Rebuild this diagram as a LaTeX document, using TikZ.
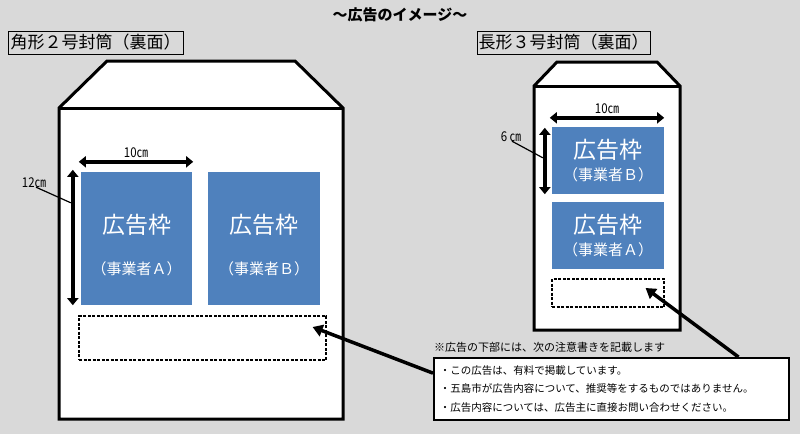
\documentclass[tikz,border=0pt]{standalone}
\usepackage{fontspec}
\setmainfont{Noto Sans CJK JP}
\usetikzlibrary{calc,arrows.meta,positioning}
\definecolor{bggray}{RGB}{217,217,217}
\definecolor{adblue}{RGB}{79,129,189}

\begin{document}
\begin{tikzpicture}[x=1pt,y=-1pt,
    adbox/.style={fill=adblue,text=white,align=center,inner sep=0pt},
    dashbox/.style={draw,fill=white,line width=1.2pt,dash pattern=on 3pt off 1.5pt,inner sep=0pt},
    tag/.style={draw,line width=0.8pt,inner sep=0pt,minimum height=23pt,font=\fontsize{17}{18}\selectfont},
    dimarrow/.style={line width=3.5pt,{Triangle[length=7pt,width=11pt]}-{Triangle[length=7pt,width=11pt]}},
    callout/.style={line width=3.5pt,-{Triangle[length=10pt,width=12pt]}},
    dimtext/.style={font=\fontsize{11}{12}\selectfont,inner sep=1pt},
    envelope/.style={draw,fill=white,line width=3pt,line join=miter}]
    \fill[bggray] (0,0) rectangle (800,434);
    \useasboundingbox (0,0) rectangle (800,434);

    \node (title) at (400,15) {\bfseries\fontsize{15}{17}\selectfont ～広告のイメージ～};
    \node (tagL) [tag,minimum width=175pt] at (95.5,42.5) {角形２号封筒（裏面）};
    \node (tagR) [tag,minimum width=173pt] at (563.5,42.5) {長形３号封筒（裏面）};

    % envelopes
    \draw[envelope] (59,419) -- (59,108) -- (107,61) -- (295,61) -- (343,108) -- (343,419) -- cycle;
    \draw[line width=3pt] (59,108) -- (343,108);
    \draw[envelope] (534,330) -- (534,86) -- (557,62) -- (657,62) -- (680,86) -- (680,330) -- cycle;
    \draw[line width=3pt] (534,86) -- (680,86);

    % ad frames, large envelope
    \node (adA) [adbox,minimum width=111pt,minimum height=133pt] at (136.5,238.5)
        {\rule{0pt}{33pt}{\fontsize{23}{24}\selectfont 広告枠}\\[25pt]{\fontsize{15}{16}\selectfont （事業者Ａ）}};
    \node (adB) [adbox,minimum width=112pt,minimum height=133pt] at (264,238.5)
        {\rule{0pt}{33pt}{\fontsize{23}{24}\selectfont 広告枠}\\[25pt]{\fontsize{15}{16}\selectfont （事業者Ｂ）}};
    \node (noteL) [dashbox,minimum width=247pt,minimum height=44pt] at (202.5,338) {};

    % ad frames, small envelope
    \node (adB2) [adbox,minimum width=112pt,minimum height=67pt] at (608,160.5)
        {{\fontsize{23}{24}\selectfont 広告枠}\\[6pt]{\fontsize{15}{16}\selectfont （事業者Ｂ）}};
    \node (adA2) [adbox,minimum width=112pt,minimum height=67pt] at (608,235.5)
        {{\fontsize{23}{24}\selectfont 広告枠}\\[6pt]{\fontsize{15}{16}\selectfont （事業者Ａ）}};
    \node (noteR) [dashbox,minimum width=112pt,minimum height=28pt] at (608,293) {};

    % sizes
    \draw[dimarrow] ($(adA.north west)+(-2,-10)$) -- node[dimtext,above=1pt] (wL) {\scalebox{0.85}[1]{\fontsize{13.5}{14}\selectfont 10㎝}} ($(adA.north east)+(1,-10)$);
    \draw[dimarrow] ($(adA.north west)+(-8,-2)$) -- ($(adA.south west)+(-8,0)$);
    \node (hL) [dimtext] at (34,183) {\scalebox{0.85}[1]{\fontsize{13.5}{14}\selectfont 12㎝}};
    \draw[line width=1.2pt] ($(hL.south)+(2,-2)$) -- ($(adA.north west)+(-10,31)$);
    \draw[dimarrow] ($(adB2.north west)+(-2,-9)$) -- node[dimtext,above=1pt] (wR) {\scalebox{0.85}[1]{\fontsize{13.5}{14}\selectfont 10㎝}} ($(adB2.north east)+(0,-9)$);
    \draw[dimarrow] ($(adB2.north west)+(-7,1)$) -- ($(adB2.south west)+(-7,0)$);
    \node (hR) [dimtext] at (511,137) {\scalebox{0.85}[1]{\fontsize{13.5}{14}\selectfont 6 ㎝}};
    \draw[line width=1.2pt] ($(hR.south)+(1,-2)$) -- ($(adB2.north west)+(-9,31)$);

    % notice
    \node (noteHead) [dimtext,anchor=west] at (433,347) {※広告の下部には、次の注意書きを記載します};
    \node (noteBox) [draw,fill=white,line width=1.5pt,anchor=north west,inner xsep=6pt,inner ysep=2pt,
        text width=343pt,minimum height=62pt,align=left,font=\fontsize{10.5}{18.5}\selectfont] at (433,357)
        {・この広告は、有料で掲載しています。\\・五島市が広告内容について、推奨等をするものではありません。\\・広告内容については、広告主に直接お問い合わせください。};

    \draw[callout] (noteBox.175) -- ($(noteL.east)+(-14,-11)$);
    \draw[callout] ($(noteBox.north east)+(-51,0)$) -- ($(noteR.east)+(-19,-5)$);
\end{tikzpicture}
\end{document}
